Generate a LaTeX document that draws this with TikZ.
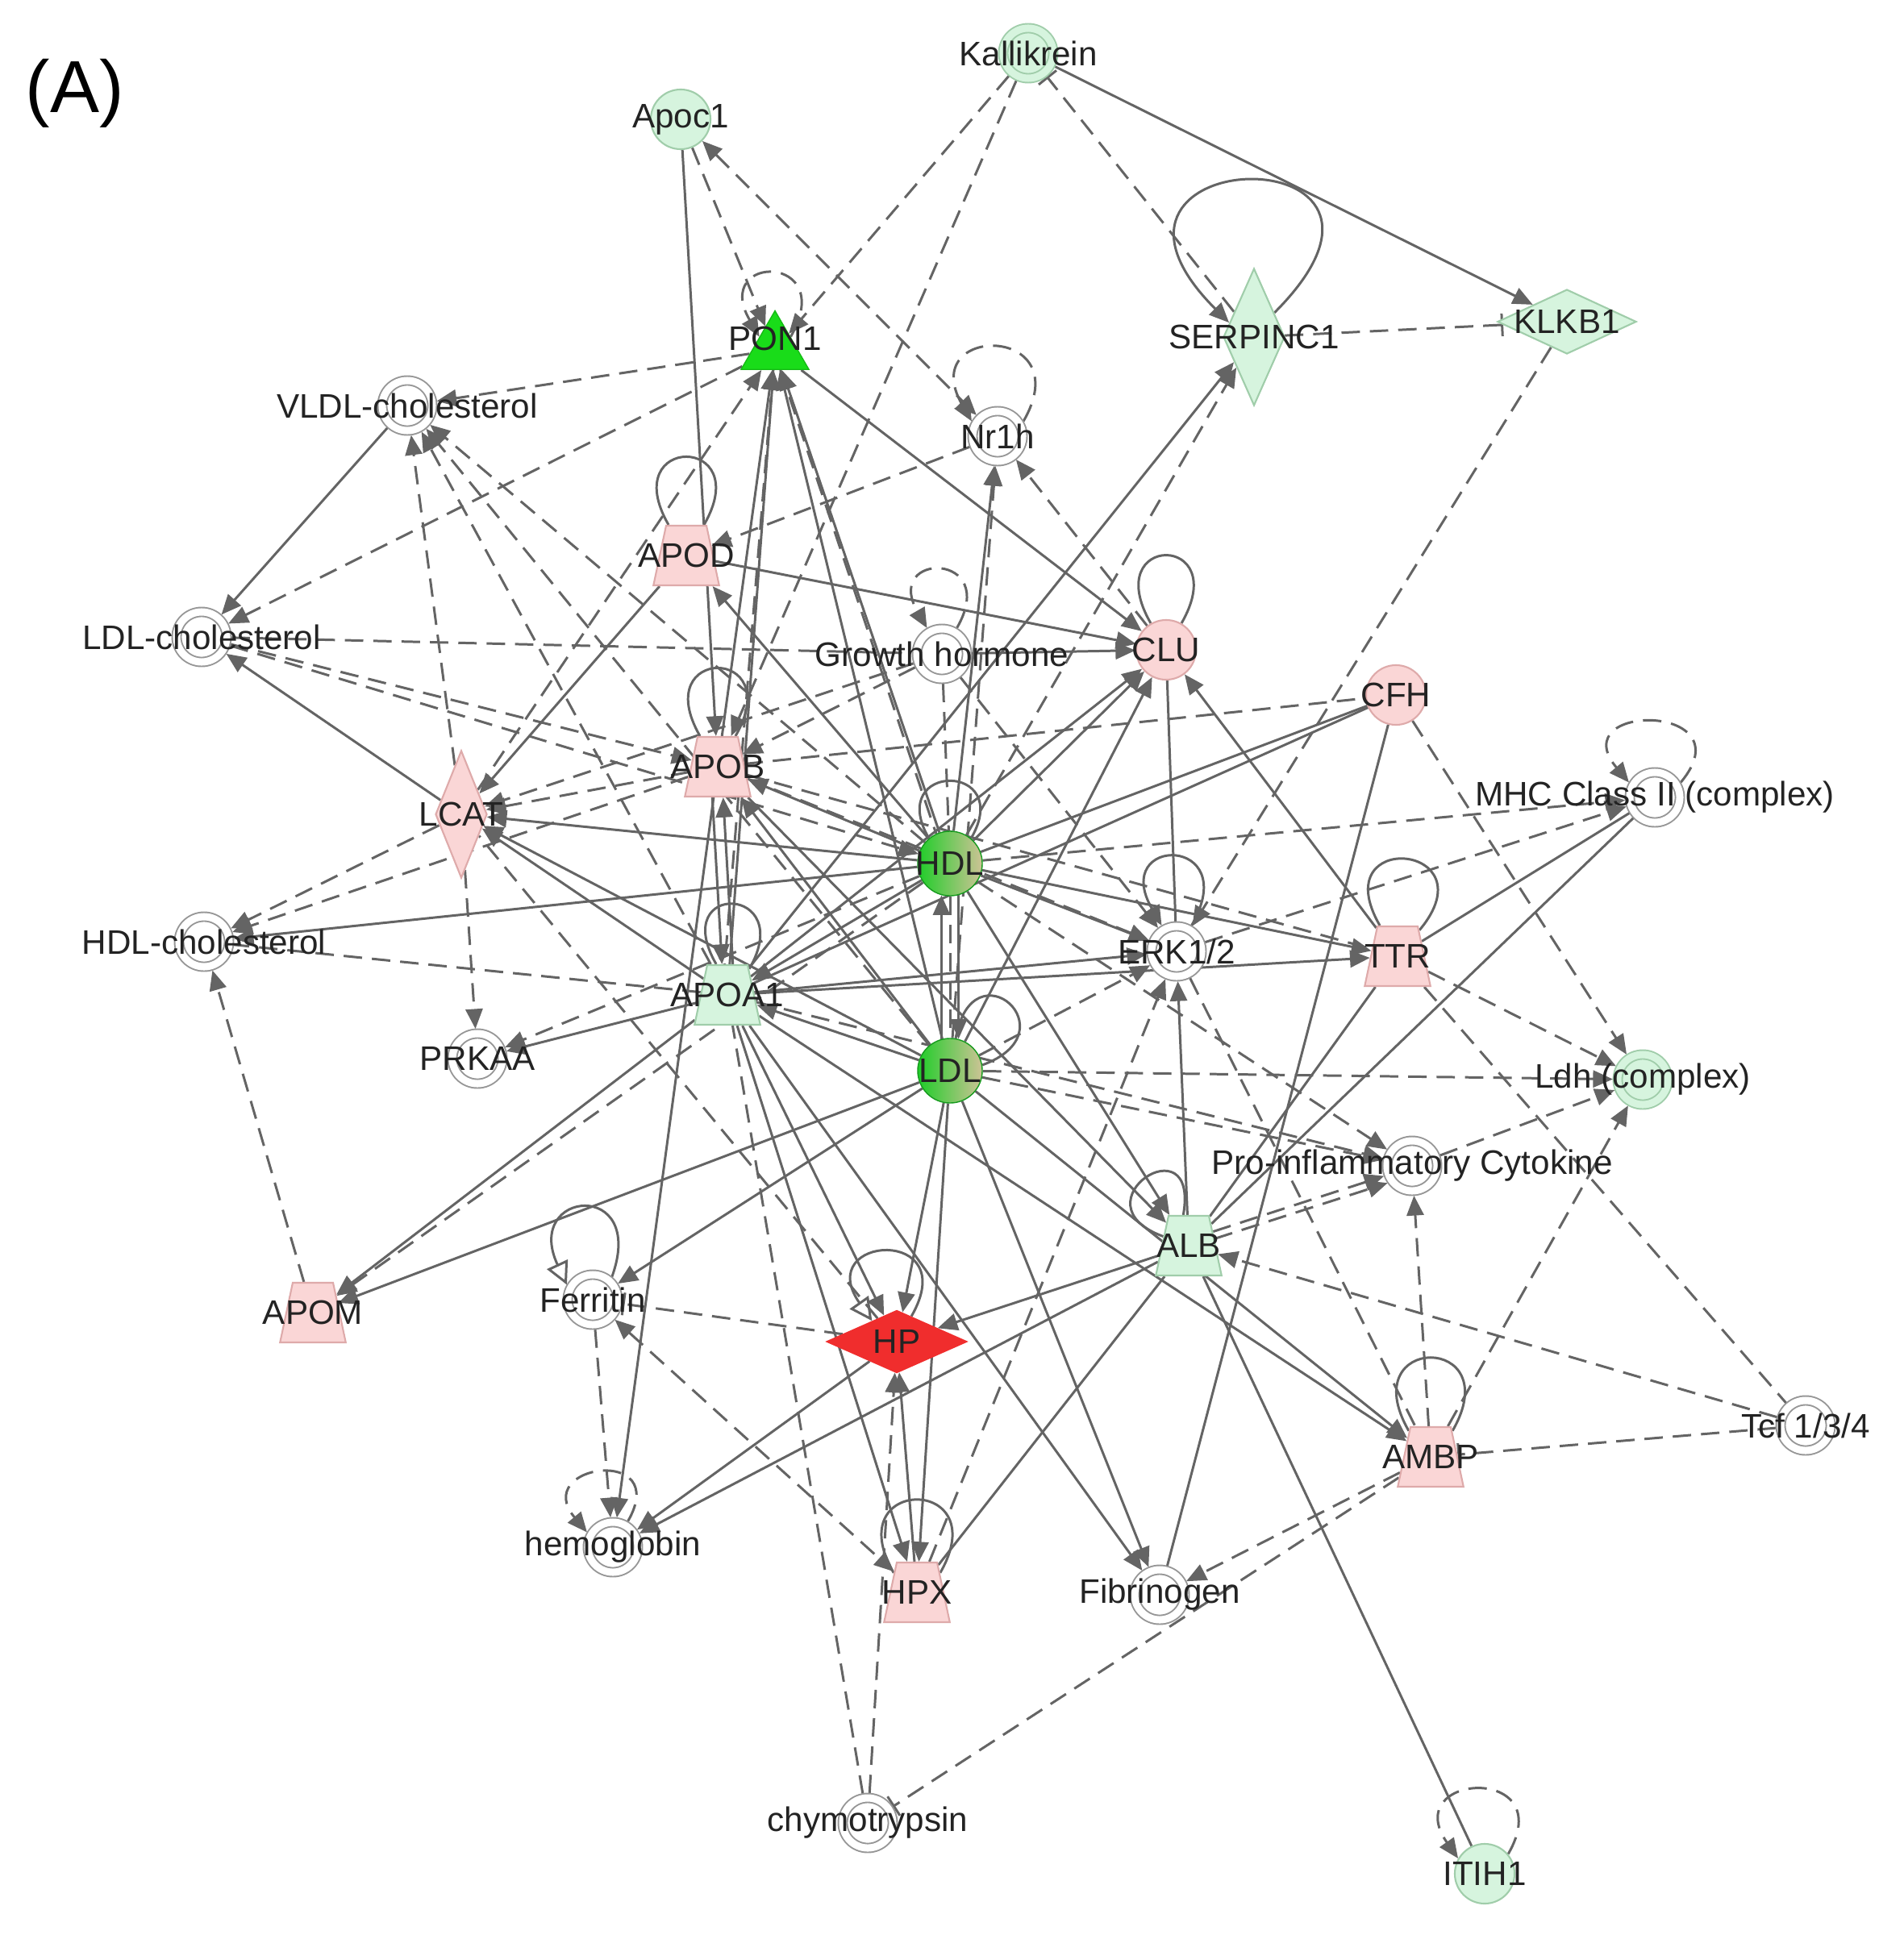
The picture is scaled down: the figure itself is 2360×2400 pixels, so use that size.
\documentclass[tikz,border=0pt]{standalone}
\usepackage{fontspec}
\setmainfont{Liberation Sans}
\usetikzlibrary{shapes.geometric,arrows.meta,backgrounds}
\definecolor{eg}{RGB}{100,100,100}
\definecolor{tx}{RGB}{35,35,35}
\definecolor{lg}{RGB}{214,244,222}
\definecolor{lgb}{RGB}{160,205,170}
\definecolor{pk}{RGB}{250,214,214}
\definecolor{pkb}{RGB}{222,170,170}
\definecolor{rd}{RGB}{240,45,45}
\definecolor{brg}{RGB}{25,220,25}
\definecolor{dcol}{RGB}{150,150,150}
\definecolor{hg}{RGB}{30,205,40}
\definecolor{htan}{RGB}{205,195,150}
\newcommand{\mytrapbox}{\rule{0.5cm}{0pt}\rule[-0.37cm]{0pt}{0.74cm}}
\begin{document}
\begin{tikzpicture}[x=0.01cm,y=-0.01cm,
  lbl/.style={font=\fontsize{12}{14}\selectfont, text=tx, inner sep=0pt},
  gc/.style={circle, fill=lg, draw=lgb, line width=0.6pt, minimum size=0.74cm, inner sep=0pt},
  pc/.style={circle, fill=pk, draw=pkb, line width=0.6pt, minimum size=0.74cm, inner sep=0pt},
  dc/.style={circle, fill=white, draw=dcol, double=white, double distance=0.09cm, line width=0.55pt, minimum size=0.62cm, inner sep=0pt, outer sep=0.06cm},
  gdc/.style={dc, fill=lg, double=lg, draw=lgb},
  hl/.style={circle, minimum size=0.8cm, inner sep=0pt, left color=hg, middle color=hg, right color=htan, draw=hg!75!black, line width=0.4pt},
  trp/.style={trapezium, trapezium angle=78, inner sep=0pt, line width=0.6pt},
  ptrp/.style={trp, fill=pk, draw=pkb},
  gtrp/.style={trp, fill=lg, draw=lgb},
  dmd/.style={diamond, inner sep=0pt, line width=0.6pt},
  tri/.style={regular polygon, regular polygon sides=3, minimum size=0.97cm, inner sep=0pt, fill=brg, draw=brg!85!black, line width=0.4pt},
  sl/.style={draw=eg, line width=0.85pt},
  dl/.style={sl, dash pattern=on 6.5pt off 3.5pt},
  sa/.style={sl, -{Triangle[length=7pt,width=6pt]}},
  da/.style={dl, -{Triangle[length=7pt,width=6pt]}},
  dab/.style={dl, {Triangle[length=7pt,width=6pt]}-{Triangle[length=7pt,width=6pt]}},
  dbar/.style={dl, -{Bar[width=8pt]}},
  oa/.style={sl, -{Triangle[open,length=8pt,width=8pt]}}]
\useasboundingbox (0,0) rectangle (2360,2400);
% ---------- nodes ----------
\node[gdc] (kal) at (1275,66) {};
\node[gc] (apoc) at (844,148) {};
\node[tri] (pon) at (961,434) {};
\node[dmd, fill=lg, draw=lgb, minimum width=0.76cm, minimum height=1.7cm] (serp) at (1555,418) {};
\node[dmd, fill=lg, draw=lgb, minimum width=1.72cm, minimum height=0.8cm] (klkb) at (1943,399) {};
\node[dc] (vldl) at (505,503) {};
\node[dc] (nr1h) at (1237,541) {};
\node[ptrp] (apod) at (851,689) {\mytrapbox};
\node[dc] (ldlc) at (250,790) {};
\node[dc] (gh) at (1168,811) {};
\node[pc] (clu) at (1446,806) {};
\node[pc] (cfh) at (1731,862) {};
\node[ptrp] (apob) at (890,951) {\mytrapbox};
\node[dmd, fill=pk, draw=pkb, minimum width=0.64cm, minimum height=1.58cm] (lcat) at (572,1010) {};
\node[dc] (mhc) at (2052,989) {};
\node[hl] (hdl) at (1178,1071) {};
\node[dc] (hdlc) at (253,1168) {};
\node[dc] (erk) at (1459,1180) {};
\node[ptrp] (ttr) at (1733,1186) {\mytrapbox};
\node[gtrp] (apoa) at (902,1234) {\mytrapbox};
\node[dc] (prkaa) at (592,1313) {};
\node[hl] (ldl) at (1178,1328) {};
\node[gdc] (ldh) at (2037,1339) {};
\node[dc] (cyto) at (1751,1446) {};
\node[gtrp] (alb) at (1474,1545) {\mytrapbox};
\node[ptrp] (apom) at (388,1628) {\mytrapbox};
\node[dc] (ferr) at (735,1612) {};
\node[dmd, fill=rd, draw=rd, minimum width=1.73cm, minimum height=0.77cm] (hp) at (1112,1664) {};
\node[ptrp] (ambp) at (1774,1807) {\mytrapbox};
\node[dc] (tcf) at (2239,1768) {};
\node[dc] (hemo) at (760,1919) {};
\node[ptrp] (hpx) at (1137,1975) {\mytrapbox};
\node[dc] (fib) at (1438,1978) {};
\node[dc] (chymo) at (1076,2261) {};
\node[gc] (itih) at (1841,2324) {};
% ---------- labels ----------
\node[anchor=west, inner sep=0pt, text=black, font=\fontsize{26}{30}\selectfont] (panel) at (31,116) {(A)};
\node[lbl] (t-kal) at (kal) {Kallikrein};
\node[lbl] (t-apoc) at (apoc) {Apoc1};
\node[lbl] (t-pon) at (961,420) {PON1};
\node[lbl] (t-serp) at (serp) {SERPINC1};
\node[lbl] (t-klkb) at (klkb) {KLKB1};
\node[lbl] (t-vldl) at (vldl) {VLDL-cholesterol};
\node[lbl] (t-nr1h) at (nr1h) {Nr1h};
\node[lbl] (t-apod) at (apod) {APOD};
\node[lbl] (t-ldlc) at (ldlc) {LDL-cholesterol};
\node[lbl] (t-gh) at (gh) {Growth hormone};
\node[lbl] (t-clu) at (clu) {CLU};
\node[lbl] (t-cfh) at (cfh) {CFH};
\node[lbl] (t-apob) at (apob) {APOB};
\node[lbl] (t-lcat) at (lcat) {LCAT};
\node[lbl] (t-mhc) at (mhc) {MHC Class II (complex)};
\node[lbl] (t-hdl) at (hdl) {HDL};
\node[lbl] (t-hdlc) at (hdlc) {HDL-cholesterol};
\node[lbl] (t-erk) at (erk) {ERK1/2};
\node[lbl] (t-ttr) at (ttr) {TTR};
\node[lbl] (t-apoa) at (apoa) {APOA1};
\node[lbl] (t-prkaa) at (prkaa) {PRKAA};
\node[lbl] (t-ldl) at (ldl) {LDL};
\node[lbl] (t-ldh) at (ldh) {Ldh (complex)};
\node[lbl] (t-cyto) at (cyto) {Pro-inflammatory Cytokine};
\node[lbl] (t-alb) at (alb) {ALB};
\node[lbl] (t-apom) at (apom) {APOM};
\node[lbl] (t-ferr) at (ferr) {Ferritin};
\node[lbl] (t-hp) at (hp) {HP};
\node[lbl] (t-ambp) at (ambp) {AMBP};
\node[lbl] (t-tcf) at (tcf) {Tcf 1/3/4};
\node[lbl] (t-hemo) at (hemo) {hemoglobin};
\node[lbl] (t-hpx) at (hpx) {HPX};
\node[lbl] (t-fib) at (fib) {Fibrinogen};
\node[lbl] (t-chymo) at (chymo) {chymotrypsin};
\node[lbl] (t-itih) at (itih) {ITIH1};
% ---------- connectors ----------
\begin{pgfonlayer}{background}
\fill[white] (0,0) rectangle (2360,2400);
% self loops
\draw[da] (pon.40) .. controls +(60:1.2cm) and +(120:1.2cm) .. (pon.140);
\draw[da] (nr1h.30) .. controls +(60:1.4cm) and +(120:1.4cm) .. (nr1h.150);
\draw[sa] (serp.50) .. controls +(45:3.2cm) and +(135:3.2cm) .. (serp.150);
\draw[sl] (apod.60) .. controls +(60:1.3cm) and +(120:1.3cm) .. (apod.120);
\draw[da] (gh.60) .. controls +(60:1.1cm) and +(120:1.1cm) .. (gh.120);
\draw[sl] (clu.60) .. controls +(60:1.3cm) and +(120:1.3cm) .. (clu.120);
\draw[sl] (apob.60) .. controls +(60:1.3cm) and +(120:1.3cm) .. (apob.120);
\draw[sl] (hdl.50) .. controls +(60:1.1cm) and +(120:1.1cm) .. (hdl.130);
\draw[sa] (erk.60) .. controls +(60:1.3cm) and +(120:1.3cm) .. (erk.120);
\draw[sl] (ttr.50) .. controls +(50:1.4cm) and +(120:1.4cm) .. (ttr.120);
\draw[sl] (apoa.50) .. controls +(60:1.2cm) and +(120:1.2cm) .. (apoa.110);
\draw[sl] (ldl.10) .. controls +(20:1.2cm) and +(80:1.2cm) .. (ldl.80);
\draw[da] (mhc.30) .. controls +(50:1.3cm) and +(130:1.3cm) .. (mhc.150);
\draw[oa] (ferr.50) .. controls +(70:1.3cm) and +(115:1.3cm) .. (ferr.150);
\draw[oa] (hp.60) .. controls +(60:1.3cm) and +(125:1.3cm) .. (hp.140);
\draw[sl] (alb.100) .. controls +(80:1.2cm) and +(160:1.2cm) .. (alb.160);
\draw[sl] (ambp.50) .. controls +(60:1.4cm) and +(120:1.4cm) .. (ambp.130);
\draw[da] (hemo.60) .. controls +(60:1.1cm) and +(130:1.1cm) .. (hemo.150);
\draw[sl] (hpx.40) .. controls +(60:1.4cm) and +(120:1.4cm) .. (hpx.140);
\draw[da] (itih.40) .. controls +(60:1.3cm) and +(125:1.3cm) .. (itih.150);
% parallel pairs
\draw[sa] (apoa.80) -- (apob.-80);
\draw[sa] (apob.-100) -- (apoa.100);
\draw[sa] (hdl.-75) -- (ldl.75);
\draw[sa] (ldl.105) -- (hdl.-105);
\draw[dl] (hdl.-90) -- (ldl.90);
\draw[dl] (pon.-75) -- (hdl.115);
\draw[dl] (pon.-95) -- (apoa.95);
\draw[da] (alb.30) -- (cyto.200);
\draw[da] (alb.15) -- (cyto.215);
% solid arrows
\foreach \a/\b in {kal/klkb, apoc/apob, pon/clu, apoa/pon, hdl/pon, ldl/pon, apob/pon,
  apod/lcat, apod/clu, vldl/ldlc, lcat/ldlc, hdl/lcat, apoa/lcat, ldl/lcat, hdl/hdlc,
  apoa/prkaa, apoa/apom, ldl/apom, ldl/ferr, apob/hemo, alb/hemo, hp/hemo, alb/hp, ldl/hp,
  apoa/hpx, ldl/hpx, hpx/hp, apoa/fib, ldl/fib, apoa/ambp, ldl/ambp, hdl/ttr, apoa/ttr,
  apoa/erk, hdl/erk, alb/erk, gh/clu, hdl/clu, apoa/clu, ldl/clu, ttr/clu, hdl/nr1h,
  hdl/apob, ldl/apob, apoa/serp, hdl/apoa, ldl/apoa, hdl/alb, apob/alb, apoa/hp, hdl/apod}
  \draw[sa] (\a) -- (\b);
% solid plain
\foreach \a/\b in {ttr/mhc, alb/mhc, alb/ttr, cfh/fib, alb/itih, clu/erk, hdl/cfh, apoa/cfh,
  alb/hpx}
  \draw[sl] (\a) -- (\b);
% dashed arrows
\foreach \a/\b in {kal/pon, kal/apob, apoc/pon, pon/vldl, pon/ldlc, lcat/pon, lcat/vldl,
  apoa/vldl, hdl/vldl, ldl/vldl, ldlc/apob, ldlc/hdl, lcat/prkaa, lcat/hdlc, apob/hdlc,
  apob/lcat, apom/hdlc, hdl/prkaa, hdl/apom, ferr/hemo, chymo/hp, ambp/fib,
  klkb/erk, tcf/alb, ambp/cyto, ambp/ldh, cyto/ldh, hdl/cyto, ldl/cyto, ldl/ldh, cfh/ldh,
  ttr/ldh, hdl/mhc, erk/mhc, clu/nr1h, ldl/nr1h, nr1h/apod, gh/erk, gh/apob, hdl/serp,
  ldl/erk, hpx/erk, apoa/cyto, gh/lcat, apob/erk}
  \draw[da] (\a) -- (\b);
% dashed plain
\foreach \a/\b in {ldlc/gh, hp/lcat, apoa/hdlc, chymo/apoa, erk/ambp, ttr/tcf, apob/cfh, gh/hdl,
  apob/ttr}
  \draw[dl] (\a) -- (\b);
% dashed both ways
\draw[dab] (apoc) -- (nr1h);
\draw[dab] (ferr) -- (hpx);
% inhibition
\draw[dbar] (serp) -- (kal);
\draw[dbar] (serp) -- (klkb);
\draw[dbar] (tcf) -- (ambp);
\draw[dbar] (ambp) -- (chymo);
\draw[dbar] (hp) -- (ferr);
\end{pgfonlayer}
\end{tikzpicture}
\end{document}
